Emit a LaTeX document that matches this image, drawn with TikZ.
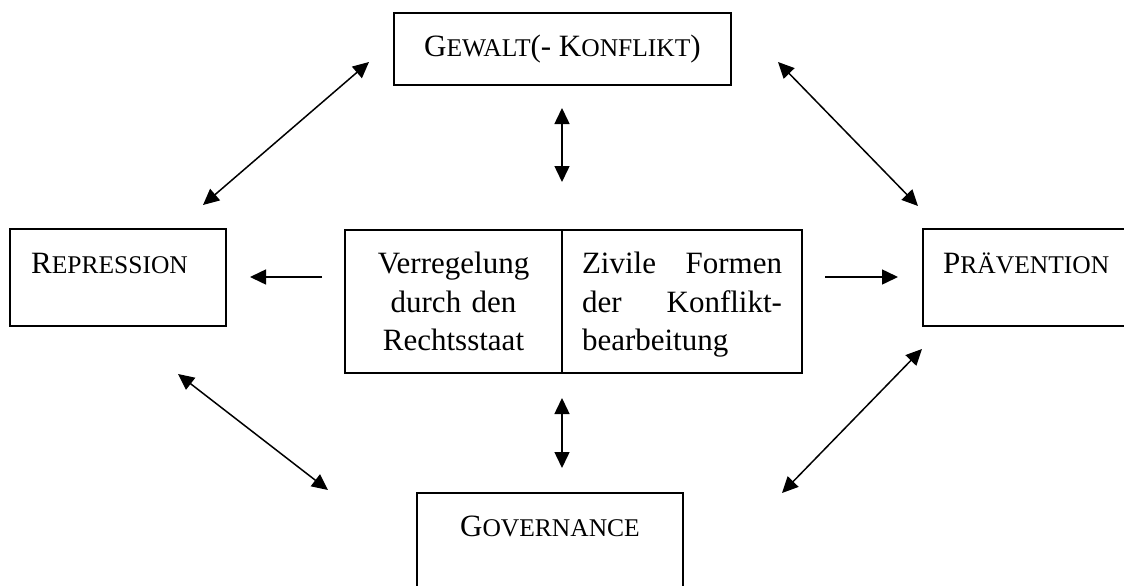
\documentclass[tikz,border=0pt]{standalone}
\usepackage{fontspec}
\setmainfont{Liberation Serif}
\usetikzlibrary{arrows.meta}
\newcommand\bigc[1]{{\fontsize{31}{38}\selectfont #1}}
\newcommand\smc[1]{{\fontsize{25.5}{38}\selectfont #1}}
\begin{document}
\begin{tikzpicture}[x=1pt,y=-1pt,
  box/.style={draw, line width=1.5pt, inner sep=0pt},
  lbl/.style={inner sep=0pt, font=\fontsize{31}{38}\selectfont},
  cell/.style={draw, line width=1.5pt, inner ysep=0pt, inner xsep=20pt, minimum height=143pt, font=\fontsize{31}{38.5}\selectfont},
  link/.style={line width=1.5pt, {Triangle[length=16pt,width=15pt]}-{Triangle[length=16pt,width=15pt]}},
  one/.style={line width=1.5pt, -{Triangle[length=16pt,width=15pt]}}]
\useasboundingbox (0,0) rectangle (1124,586);
\clip (0,0) rectangle (1124,586);
% boxes
\node[box, minimum width=337pt, minimum height=72pt] (gew) at (562.5,49)
  {\bigc{G}\smc{EWALT}\bigc{(- K}\smc{ONFLIKT}\bigc{)}};
\node[box, minimum width=216pt, minimum height=97pt] (rep) at (118,277.5) {};
\node[lbl, anchor=base west] (reptext) at (31,273) {\bigc{R}\smc{EPRESSION}};
\node[box, minimum width=207pt, minimum height=97pt] (prae) at (1026.5,277.5) {};
\node[lbl, anchor=base west] (praetext) at (943,273) {\bigc{P}\smc{RÄVENTION}};
\node[box, minimum width=266pt, minimum height=117pt] (gov) at (550,551.5) {};
\node[lbl, anchor=base] (govtext) at (550,536) {\bigc{G}\smc{OVERNANCE}};
% centre (cell frames and their texts)
\node[box, minimum width=217pt, minimum height=143pt] (lcell) at (453.5,301.5) {};
\node[box, minimum width=240pt, minimum height=143pt] (rcell) at (682,301.5) {};
\node[lbl, text width=177pt, align=center, font=\fontsize{31}{38.5}\selectfont] (ltext) at (453.5,305)
  {Verregelung\\durch den\\Rechtsstaat\vphantom{g}};
\node[lbl, text width=200pt, align=left, font=\fontsize{31}{38.5}\selectfont] (rtext) at (682,305)
  {\makebox[200pt][l]{Zivile\hfill Formen}\\\makebox[200pt][l]{der\hfill Konflikt-}\\bearbeitung};
% arrow endpoints
\coordinate (t1) at (562,108); \coordinate (t2) at (562,182);
\coordinate (b1) at (562,398); \coordinate (b2) at (562,468);
\coordinate (l1) at (322,277); \coordinate (l2) at (250,277);
\coordinate (r1) at (825,277); \coordinate (r2) at (898,277);
\coordinate (ul1) at (203,205); \coordinate (ul2) at (369,62);
\coordinate (ur1) at (778,62); \coordinate (ur2) at (918,206);
\coordinate (ll1) at (178,374); \coordinate (ll2) at (328,490);
\coordinate (lr1) at (922,349); \coordinate (lr2) at (782,493);
\draw[link] (t1) -- (t2);
\draw[link] (b1) -- (b2);
\draw[one] (l1) -- (l2);
\draw[one] (r1) -- (r2);
\draw[link] (ul1) -- (ul2);
\draw[link] (ur1) -- (ur2);
\draw[link] (ll1) -- (ll2);
\draw[link] (lr1) -- (lr2);
\end{tikzpicture}
\end{document}
